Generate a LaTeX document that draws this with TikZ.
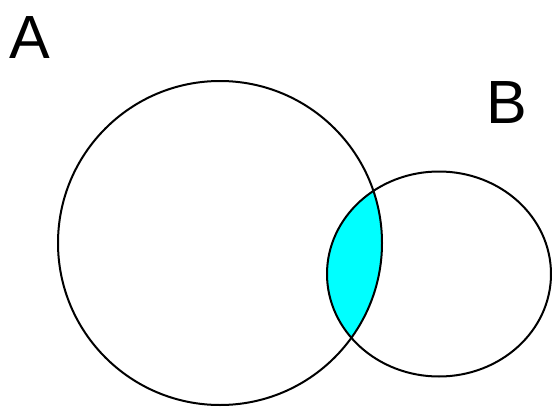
\documentclass[tikz,border=0pt]{standalone}
\usepackage{fontspec}
\setmainfont{Liberation Sans}
\usetikzlibrary{positioning}
\definecolor{lenscyan}{RGB}{0,255,255}

\begin{document}
\begin{tikzpicture}[
  x=1pt,y=-1pt,
  setline/.style={line width=2pt},
  setlabel/.style={font=\fontsize{61}{61}\selectfont,anchor=base west,inner sep=0pt}
]
\useasboundingbox (0,0) rectangle (552,407);
\coordinate (cA) at (220,243);
\coordinate (cB) at (439,274);
% shaded overlap
\begin{scope}
  \clip (cA) circle (162pt);
  \fill[lenscyan] (cB) ellipse [x radius=112pt,y radius=102.5pt];
\end{scope}
\draw[setline] (cA) circle (162pt);
\draw[setline] (cB) ellipse [x radius=112pt,y radius=102.5pt];
\node[setlabel] (labA) at (9,58) {A};
\node[setlabel] (labB) at (486,123) {B};
\end{tikzpicture}
\end{document}
